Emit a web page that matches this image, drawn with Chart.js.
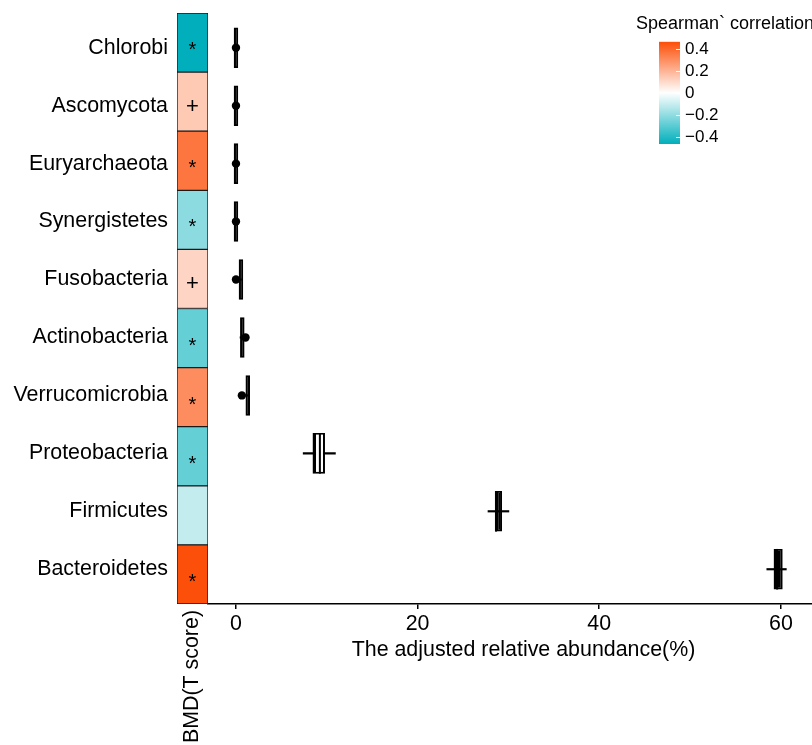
<!DOCTYPE html>
<html>
<head>
<meta charset="utf-8">
<script src="https://cdn.jsdelivr.net/npm/chart.js@4.4.0/dist/chart.umd.min.js"></script>
<style>
  html, body { margin: 0; padding: 0; background: #fff; overflow: hidden; }
  #wrap { position: relative; width: 812px; height: 745px; overflow: hidden; }
  canvas { position: absolute; top: 0; }
  #box { left: 0; }
  #heat { left: 0; }
  #scale { left: 636px; }
</style>
</head>
<body>
<div id="wrap">
  <canvas id="box" width="840" height="745"></canvas>
  <canvas id="heat" width="208" height="745"></canvas>
  <canvas id="scale" width="200" height="150"></canvas>
</div>
<script>
// phyla, top to bottom
const taxa = ["Chlorobi", "Ascomycota", "Euryarchaeota", "Synergistetes", "Fusobacteria",
              "Actinobacteria", "Verrucomicrobia", "Proteobacteria", "Firmicutes", "Bacteroidetes"]

// spearman correlation with BMD (T score) + significance mark
const rho = [-0.465, 0.14, 0.36, -0.21, 0.11, -0.28, 0.30, -0.28, -0.11, 0.46]
const sig = ["*", "+", "*", "*", "+", "*", "*", "*", "", "*"]
const heatLabel = "BMD(T score)"

// adjusted relative abundance (%) box plots
const whiskLo = [0, 0, 0, 0, 0.3, 0.45, 1.05, 7.4, 27.75, 58.45]
const q1      = [0, 0, 0, 0, 0.3, 0.45, 1.05, 8.43, 28.5, 59.2]
const median  = [null, null, null, null, null, null, null, 9.35, 28.75, 59.7]
const q3      = [0, 0, 0, 0.03, 0.6, 0.7, 1.3, 9.8, 29.3, 60.2]
const whiskHi = [0, 0, 0, 0.03, 0.6, 0.7, 1.3, 10.95, 30.05, 60.6]
const dots    = [0, 0, 0, 0, 0, 1.05, 0.65, null, null, null]

const xTicks = [0, 20, 40, 60]
const xTitle = "The adjusted relative abundance(%)"

// colour bar
const scaleTitle = "Spearman` correlation"
const scaleTicks = [-0.4, -0.2, 0, 0.2, 0.4]
const scaleMin = -0.465, scaleMax = 0.465

const LOW = [0, 175, 187], HIGH = [252, 78, 7]
const FS = 21.4

Chart.defaults.font.family = "'Liberation Sans', Arial, sans-serif"
Chart.defaults.color = "#000"

function corrColor(v){
  let f = Math.min(Math.abs(v) / scaleMax, 1)
  let c = v < 0 ? LOW : HIGH
  let r = Math.round(255 + (c[0] - 255) * f)
  let g = Math.round(255 + (c[1] - 255) * f)
  let b = Math.round(255 + (c[2] - 255) * f)
  return "rgb(" + r + "," + g + "," + b + ")"
}

// stars / crosses in the heat cells
const sigPlugin = {
  id: "sig",
  afterDatasetsDraw(chart){
    const ctx = chart.ctx
    chart.getDatasetMeta(0).data.forEach((bar, i) => {
      let mark = sig[i]
      if(!mark) return
      let c = bar.getCenterPoint()
      ctx.save()
      ctx.fillStyle = "#000"
      ctx.textAlign = "center"
      ctx.textBaseline = "alphabetic"
      if(mark == "*"){
        ctx.font = "20px 'Liberation Sans'"
        ctx.fillText(mark, c.x, c.y + 13.5)
      }else{
        ctx.font = "22px 'Liberation Sans'"
        ctx.fillText(mark, c.x, c.y + 11.5)
      }
      ctx.restore()
    })
  }
}

// the box panel has a discrete expansion of 0.6 rows on each side
const rowMin = -0.6, rowMax = taxa.length - 1 + 0.6
const rowTicks = s => { s.ticks = taxa.map((t, i) => ({ value: i })) }

const heatChart = new Chart("heat", {
  type: "bar",
  data: {
    labels: taxa,
    datasets: [{
      data: taxa.map(() => [0, 1]),
      yAxisID: "y",
      backgroundColor: rho.map(corrColor),
      borderColor: "#1a1a1a",
      borderWidth: 1,
      borderSkipped: false,
      categoryPercentage: 1,
      barPercentage: 1
    }]
  },
  options: {
    indexAxis: "y",
    responsive: false,
    animation: false,
    layout: { autoPadding: false, padding: { top: 13, right: 0, bottom: 0, left: 0 } },
    plugins: { legend: { display: false }, tooltip: { enabled: false } },
    scales: {
      x: {
        type: "linear", min: 0, max: 1,
        grid: { display: false, drawTicks: false },
        border: { display: false },
        afterBuildTicks: s => { s.ticks = [{ value: 0.5 }] },
        afterFit: s => { s.height = 141; s.paddingLeft = 0; s.paddingRight = 0 },
        ticks: { minRotation: 90, maxRotation: 90, padding: 6, font: { size: FS }, callback: () => heatLabel }
      },
      y: { type: "category", display: false },
      names: {
        type: "linear", axis: "y", position: "left", reverse: true, offset: false, min: rowMin, max: rowMax,
        grid: { display: false, drawTicks: false, offset: false },
        border: { display: false },
        afterBuildTicks: rowTicks,
        afterFit: s => { s.width = 177; s.paddingTop = 0; s.paddingBottom = 0 },
        ticks: { padding: 9, font: { size: FS }, autoSkip: false, callback: v => taxa[v] }
      }
    }
  },
  plugins: [sigPlugin]
})

const boxChart = new Chart("box", {
  type: "bar",
  data: {
    datasets: [{
        label: "whisker",
        data: taxa.map((t, i) => ({ x: [whiskLo[i], whiskHi[i]], y: i })),
        backgroundColor: "#000",
        barThickness: 1.5,
        grouped: false,
        order: 4
      },{
        label: "box",
        data: taxa.map((t, i) => ({ x: [q1[i], q3[i]], y: i })),
        // narrow boxes close up into a solid black bar, like the thick outline in the original
        backgroundColor: c => (q3[c.dataIndex] - q1[c.dataIndex]) < 1.2 ? "#000" : "#fff",
        borderColor: "#000",
        borderWidth: { left: 3.5, right: 2, top: 1.8, bottom: 1.8 },
        borderSkipped: false,
        minBarLength: 4.5,
        categoryPercentage: 1,
        barPercentage: 0.7,
        grouped: false,
        order: 3
      },{
        label: "median",
        data: taxa.map((t, i) => median[i] == null ? null : { x: [median[i], median[i]], y: i }).filter(d => d),
        backgroundColor: "#000",
        minBarLength: 2,
        categoryPercentage: 1,
        barPercentage: 0.7,
        grouped: false,
        order: 2
      },{
        type: "scatter",
        label: "point",
        data: taxa.map((t, i) => dots[i] == null ? null : { x: dots[i], y: i }).filter(d => d),
        xAxisID: "x",
        yAxisID: "y",
        backgroundColor: "#000",
        borderWidth: 0,
        pointRadius: 4.2,
        order: 1
      }
    ]
  },
  options: {
    indexAxis: "y",
    responsive: false,
    animation: false,
    layout: { autoPadding: false, padding: { top: 13, right: 1, bottom: 0, left: 208 } },
    plugins: { legend: { display: false }, tooltip: { enabled: false } },
    scales: {
      x: {
        type: "linear", min: -3.08, max: 66.4,
        afterBuildTicks: s => { s.ticks = xTicks.map(v => ({ value: v })) },
        afterFit: s => { s.height = 141 },
        grid: { drawOnChartArea: false, drawTicks: true, tickLength: 5, color: "#000", lineWidth: 1.5 },
        border: { display: true, color: "#000", width: 1.5 },
        ticks: { padding: 2, maxRotation: 0, font: { size: FS } },
        title: { display: true, text: xTitle, font: { size: FS }, padding: { top: 4, bottom: 82 } }
      },
      y: { type: "linear", display: false, reverse: true, offset: false, min: rowMin, max: rowMax,
           afterBuildTicks: rowTicks, grid: { offset: false } }
    }
  }
})

// white tick marks on the colour bar
const barTicks = {
  id: "barTicks",
  afterDatasetsDraw(chart){
    const ctx = chart.ctx, a = chart.chartArea, sc = chart.scales.y
    ctx.save()
    ctx.strokeStyle = "#fff"
    ctx.lineWidth = 1
    scaleTicks.forEach(v => {
      let y = Math.round(sc.getPixelForValue(v)) + 0.5
      ctx.beginPath()
      ctx.moveTo(a.right - 4, y)
      ctx.lineTo(a.right, y)
      ctx.stroke()
    })
    ctx.restore()
  }
}

const scaleChart = new Chart("scale", {
  type: "bar",
  data: {
    labels: [""],
    datasets: [{
      data: [[scaleMin, scaleMax]],
      xAxisID: "x",
      yAxisID: "y",
      backgroundColor: function(context){
        const a = context.chart.chartArea
        if(!a) return "#fff"
        const g = context.chart.ctx.createLinearGradient(0, a.bottom, 0, a.top)
        g.addColorStop(0, "rgb(" + LOW.join(",") + ")")
        g.addColorStop(0.5, "#fff")
        g.addColorStop(1, "rgb(" + HIGH.join(",") + ")")
        return g
      },
      borderWidth: 0,
      categoryPercentage: 1,
      barPercentage: 1
    }]
  },
  options: {
    responsive: false,
    animation: false,
    layout: { autoPadding: false, padding: { top: 0, right: 0, bottom: 6, left: 0 } },
    plugins: {
      legend: { display: false },
      tooltip: { enabled: false },
      title: { display: true, text: scaleTitle, align: "start", color: "#000",
               font: { size: 18, weight: "normal", lineHeight: 1.2 }, padding: { top: 13.5, bottom: 6.6 } }
    },
    scales: {
      x: { display: false },
      y: {
        position: "right", min: scaleMin, max: scaleMax,
        grid: { display: false, drawTicks: false },
        border: { display: false },
        afterBuildTicks: s => { s.ticks = scaleTicks.map(v => ({ value: v })) },
        afterFit: s => { s.width = 156; s.paddingTop = 0; s.paddingBottom = 0 },
        ticks: {
          padding: 5, autoSkip: false, font: { size: 17 },
          callback: v => v == 0 ? "0" : (v < 0 ? "\u2212" : "") + Math.abs(v).toFixed(1)
        }
      },
      yl: { type: "linear", axis: "y", position: "left", display: true, ticks: { display: false },
            grid: { display: false }, border: { display: false },
            afterFit: s => { s.width = 23 } }
    }
  },
  plugins: [barTicks]
})
</script>
</body>
</html>
